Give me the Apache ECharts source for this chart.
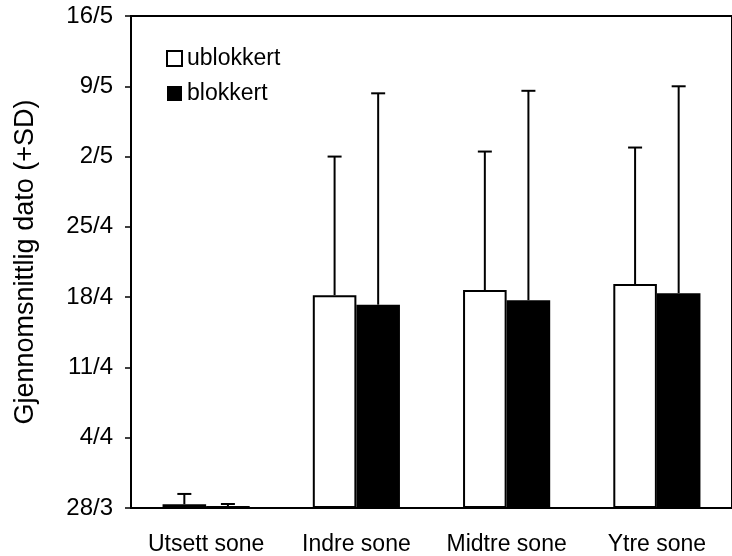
<!DOCTYPE html>
<html>
<head>
<meta charset="utf-8">
<script src="https://cdn.jsdelivr.net/npm/echarts@6/dist/echarts.min.js"></script>
<style>html,body{margin:0;padding:0;background:#fff;}#c{width:732px;height:556px;}</style>
</head>
<body>
<div id="c"></div>
<script>
// Days after 28/3
var categories = ['Utsett sone', 'Indre sone', 'Midtre sone', 'Ytre sone'];
var ublokkert = [0.37, 21.2, 21.7, 22.3];
var ublokkertSD = [1.03, 13.8, 13.8, 13.6];
var blokkert = [0.2, 20.25, 20.7, 21.4];
var blokkertSD = [0.2, 21.05, 20.85, 20.6];
var tickLabels = ['28/3', '4/4', '11/4', '18/4', '25/4', '2/5', '9/5', '16/5'];
var tickStep = 7;

var font = 'Liberation Sans, Arial, sans-serif';
var catGap = 0.42;

function errData(vals, sds) {
  return vals.map(function (v, i) { return [i, v, v + sds[i]]; });
}

function errSeries(name, vals, sds, side) {
  return {
    type: 'custom',
    name: name + '_err',
    silent: true,
    z: 5,
    data: errData(vals, sds),
    renderItem: function (params, api) {
      var band = api.size([1, 0])[0];
      var barW = band * (1 - catGap) / 2;
      var base = api.coord([api.value(0), api.value(1)]);
      var top = api.coord([api.value(0), api.value(2)]);
      var x = base[0] + side * barW / 2;
      var capHalf = 7;
      return {
        type: 'group',
        children: [
          { type: 'line', shape: { x1: x, y1: base[1], x2: x, y2: top[1] }, style: { stroke: '#000', lineWidth: 2 } },
          { type: 'line', shape: { x1: x - capHalf, y1: top[1], x2: x + capHalf, y2: top[1] }, style: { stroke: '#000', lineWidth: 2 } }
        ]
      };
    }
  };
}

var chart = echarts.init(document.getElementById('c'), null, { renderer: 'canvas' });
chart.setOption({
  animation: false,
  backgroundColor: '#fff',
  grid: {
    left: 131, top: 16, width: 609, height: 492,
    containLabel: false,
    show: true, borderColor: '#000', borderWidth: 2, backgroundColor: 'transparent'
  },
  legend: {
    orient: 'vertical',
    left: 161, top: 42,
    itemWidth: 15, itemHeight: 15, itemGap: 12,
    icon: 'rect',
    data: ['ublokkert', 'blokkert'],
    textStyle: { fontFamily: font, fontSize: 23, color: '#000' }
  },
  xAxis: {
    type: 'category',
    data: categories,
    axisLine: { lineStyle: { color: '#000', width: 2 } },
    axisTick: { show: false },
    axisLabel: { fontFamily: font, fontSize: 23, color: '#000', margin: 25, interval: 0, hideOverlap: false },
    splitLine: { show: false }
  },
  yAxis: {
    type: 'value',
    min: 0, max: 49, interval: tickStep,
    name: 'Gjennomsnittlig dato (+SD)',
    nameLocation: 'middle',
    nameGap: 92,
    nameRotate: 90,
    nameTextStyle: { fontFamily: font, fontSize: 27, color: '#000' },
    axisLine: { show: true, lineStyle: { color: '#000', width: 2 } },
    axisTick: { show: true, length: 6, lineStyle: { color: '#000', width: 1.5 } },
    splitLine: { show: false },
    axisLabel: {
      fontFamily: font, fontSize: 24, color: '#000', margin: 18,
      formatter: function (v) { return tickLabels[Math.round(v / tickStep)]; }
    }
  },
  series: [
    {
      type: 'bar', name: 'ublokkert', data: ublokkert,
      barGap: '0%', barCategoryGap: (catGap * 100) + '%',
      itemStyle: { color: '#fff', borderColor: '#000', borderWidth: 2 }
    },
    {
      type: 'bar', name: 'blokkert', data: blokkert,
      barGap: '0%', barCategoryGap: (catGap * 100) + '%',
      itemStyle: { color: '#000', borderColor: '#000', borderWidth: 0 }
    },
    errSeries('ublokkert', ublokkert, ublokkertSD, -1),
    errSeries('blokkert', blokkert, blokkertSD, 1)
  ]
});
</script>
</body>
</html>
